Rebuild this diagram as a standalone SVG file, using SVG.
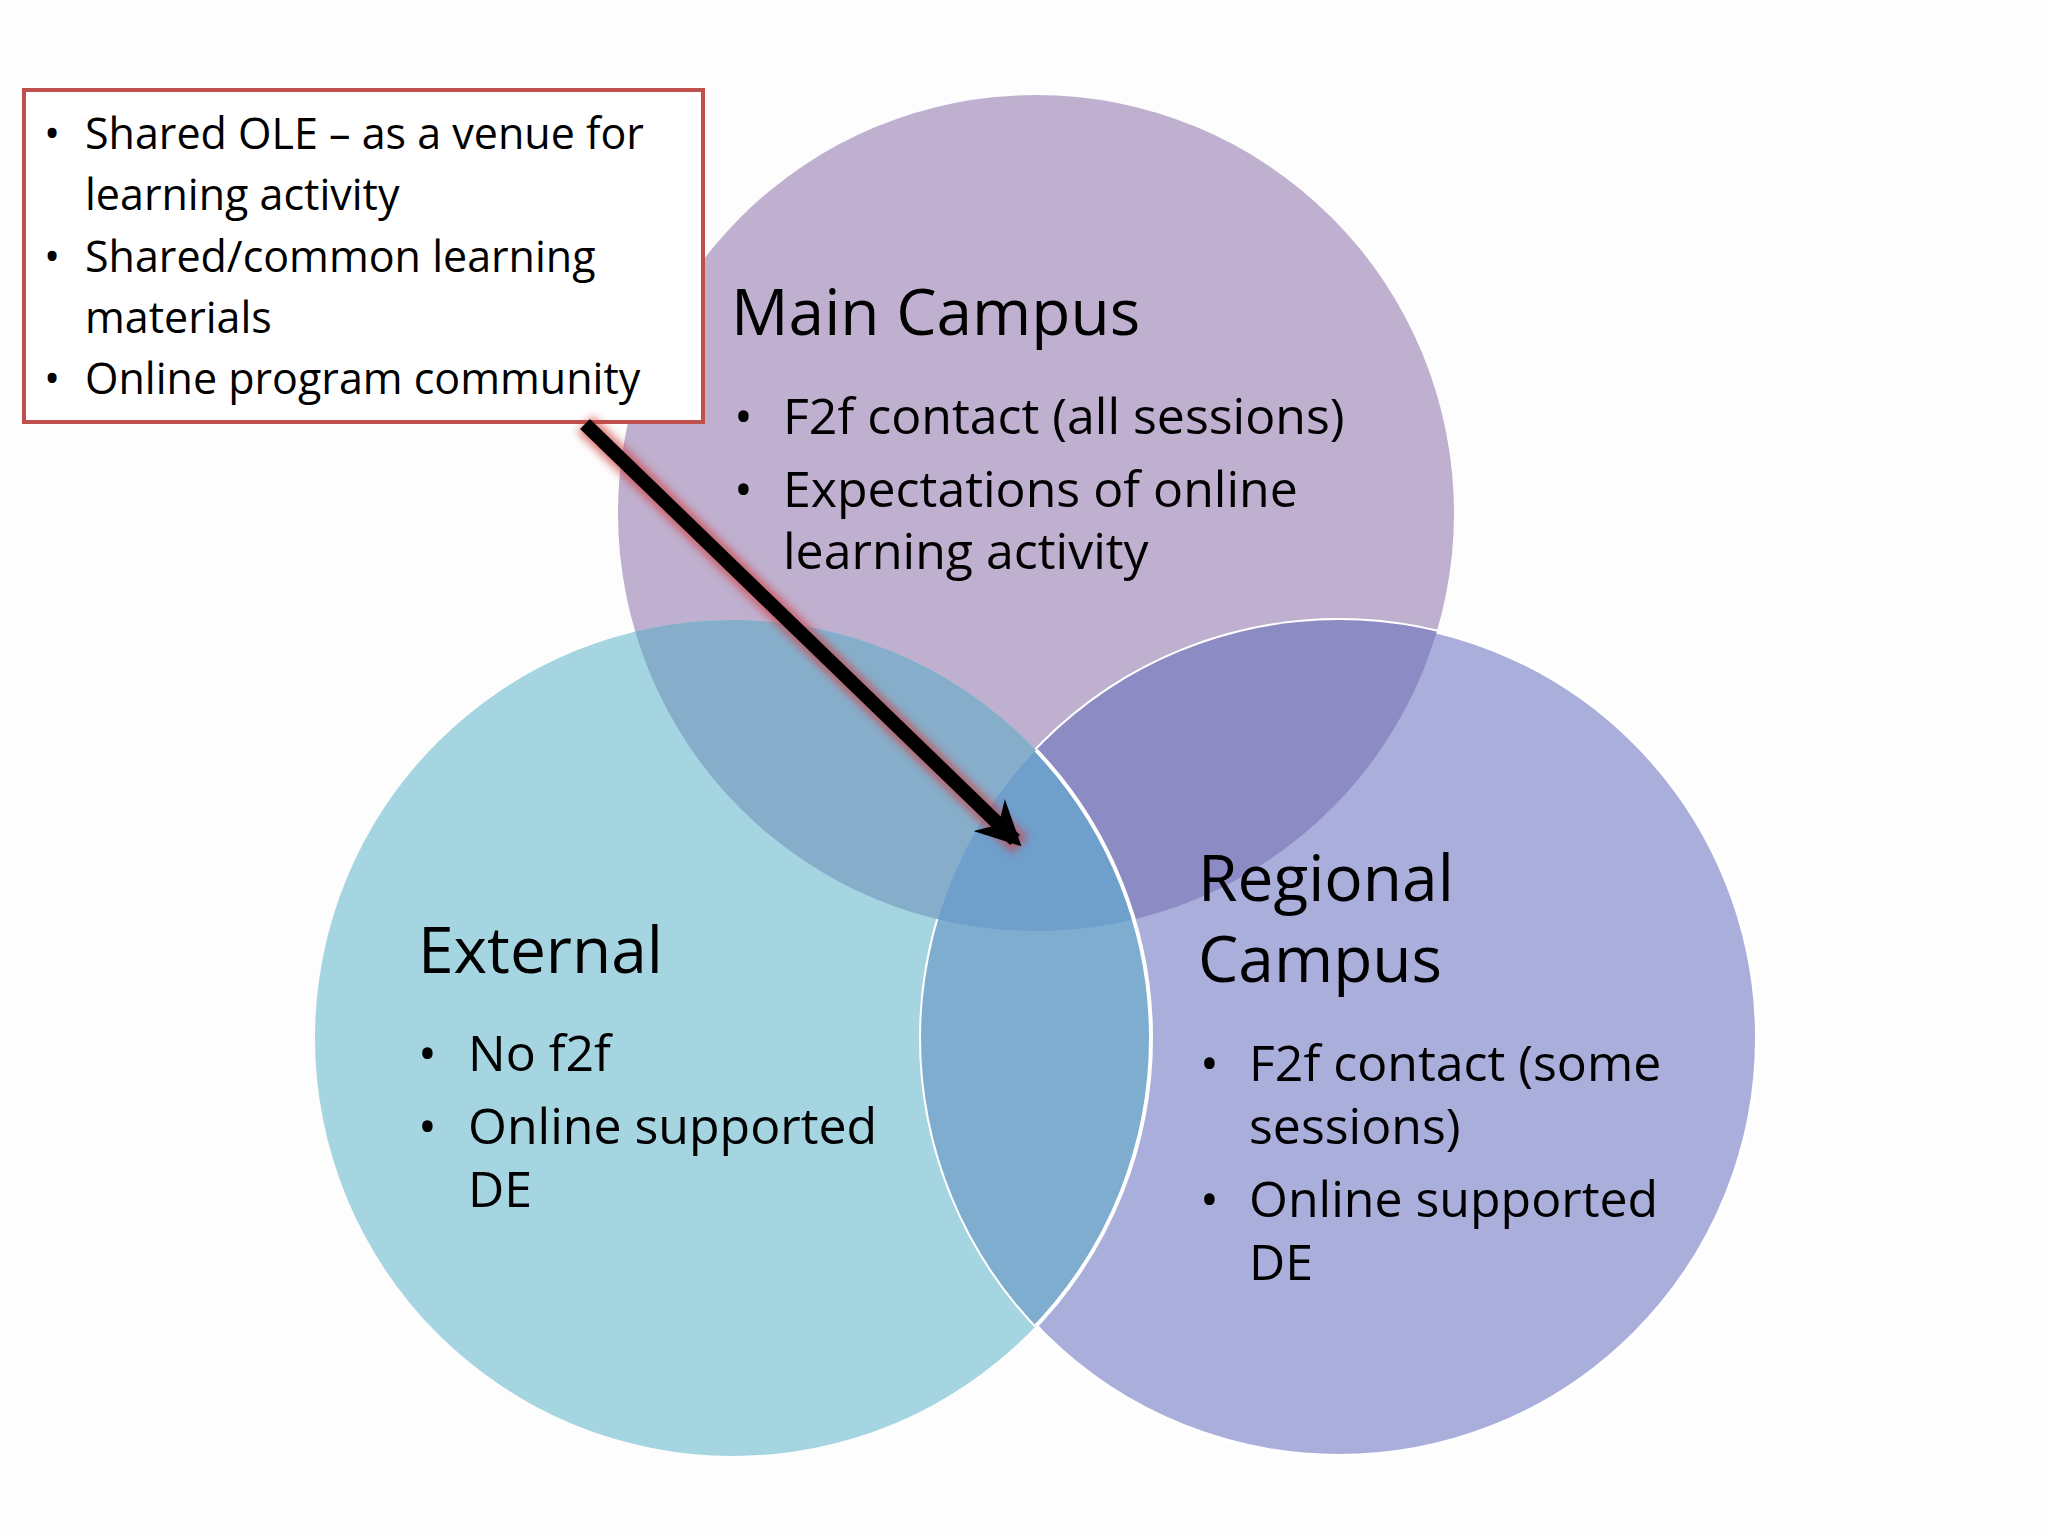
<svg xmlns="http://www.w3.org/2000/svg" width="2048" height="1536" viewBox="0 0 2048 1536">
<defs>
<style>
text{font-family:"Open Sans","Noto Sans",sans-serif;fill:#000}
.h{font-size:64px}
.b{font-size:50px}
.s{font-size:43px}
</style>
<clipPath id="cM"><circle cx="1036" cy="513" r="418"/></clipPath>
<clipPath id="cE"><circle cx="733" cy="1038" r="418"/></clipPath>
<clipPath id="cR"><circle cx="1339" cy="1038" r="418"/></clipPath>
<marker id="ah" viewBox="0 0 10 10" refX="8" refY="5" markerWidth="3.2" markerHeight="3.2" orient="auto"><path d="M0,0 L10,5 L0,10 L3,5 z" fill="#000"/></marker>
<filter id="glow" x="-20%" y="-20%" width="140%" height="140%"><feGaussianBlur stdDeviation="4"/></filter>
</defs>
<rect width="2048" height="1536" fill="#fdfdfd"/>
<g id="main"><circle cx="1036" cy="513" r="418" fill="#bfb0d0"/></g>
<g id="external"><circle cx="733" cy="1038" r="418" fill="#a6d5e2"/></g>
<g id="regional"><circle cx="1339" cy="1038" r="418" fill="#aaaedb" stroke="#fff" stroke-width="4"/></g>
<g id="overlaps">
<circle cx="733" cy="1038" r="418" fill="#86aecb" clip-path="url(#cM)"/>
<circle cx="1339" cy="1038" r="418" fill="#8d8bc3" clip-path="url(#cM)"/>
<g clip-path="url(#cE)"><circle cx="1339" cy="1038" r="418" fill="#7eadd0"/></g>
<g clip-path="url(#cM)"><g clip-path="url(#cE)"><circle cx="1339" cy="1038" r="418" fill="#6f9fcb"/></g></g>
<circle cx="733" cy="1038" r="418" fill="none" stroke="#fff" stroke-width="4" clip-path="url(#cR)"/>
<circle cx="1036" cy="513" r="418" fill="none" stroke="#fff" stroke-width="0"/>
</g>
<g id="labels">
<text class="h" x="731" y="335">Main Campus</text>
<text class="b" x="734" y="434">•</text><text class="b" x="783" y="434">F2f contact (all sessions)</text>
<text class="b" x="734" y="507">•</text><text class="b" x="783" y="507">Expectations of online</text>
<text class="b" x="783" y="569">learning activity</text>
<text class="h" x="418" y="973">External</text>
<text class="b" x="418" y="1071">•</text><text class="b" x="468" y="1071">No f2f</text>
<text class="b" x="418" y="1144">•</text><text class="b" x="468" y="1144">Online supported</text>
<text class="b" x="468" y="1207">DE</text>
<text class="h" x="1198" y="901">Regional</text>
<text class="h" x="1198" y="982">Campus</text>
<text class="b" x="1200" y="1081">•</text><text class="b" x="1249" y="1081">F2f contact (some</text>
<text class="b" x="1249" y="1144">sessions)</text>
<text class="b" x="1200" y="1217">•</text><text class="b" x="1249" y="1217">Online supported</text>
<text class="b" x="1249" y="1280">DE</text>
</g>
<g id="callout">
<rect x="24" y="90" width="679" height="332" fill="#fff" stroke="#c0504d" stroke-width="4"/>
<text class="s" x="44" y="149">•</text><text class="s" x="85" y="149">Shared OLE – as a venue for</text>
<text class="s" x="85" y="210">learning activity</text>
<text class="s" x="44" y="272">•</text><text class="s" x="85" y="272">Shared/common learning</text>
<text class="s" x="85" y="333">materials</text>
<text class="s" x="44" y="394">•</text><text class="s" x="85" y="394">Online program community</text>
</g>
<g id="connectors">
<line x1="585" y1="424" x2="1020" y2="845" stroke="#d04040" stroke-width="22" filter="url(#glow)" opacity="0.7"/>
<line x1="585" y1="424" x2="1015" y2="840" stroke="#000" stroke-width="14" marker-end="url(#ah)"/>
</g>
</svg>
